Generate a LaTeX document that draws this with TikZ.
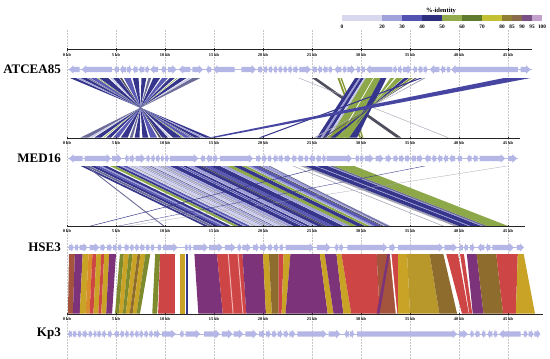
\documentclass[tikz,border=0pt]{standalone}
\usepackage{fontspec}
\setmainfont{Liberation Serif}
\definecolor{cNavy}{HTML}{35358C}
\definecolor{cNavyB}{HTML}{4646A2}
\definecolor{cBlue}{HTML}{5A5AB4}
\definecolor{cLav}{HTML}{9E9ED8}
\definecolor{cLightLav}{HTML}{CACAEA}
\definecolor{cSlate}{HTML}{6C6C98}
\definecolor{cGray}{HTML}{A4A4B4}
\definecolor{cDark}{HTML}{4E4E5E}
\definecolor{cGreen}{HTML}{8DA848}
\definecolor{cOliveG}{HTML}{8A9A3A}
\definecolor{cOlive}{HTML}{7E8A2E}
\definecolor{cGold}{HTML}{C9A326}
\definecolor{cGoldDark}{HTML}{B8982A}
\definecolor{cOrange}{HTML}{D88C2A}
\definecolor{cRed}{HTML}{CD4545}
\definecolor{cPurple}{HTML}{7D3379}
\definecolor{cBrown}{HTML}{8E6C2E}
\definecolor{cBrownRed}{HTML}{A4543C}
\definecolor{cPink}{HTML}{F2B4B4}
\definecolor{cGene}{HTML}{B4B7E6}
\definecolor{lg1}{HTML}{D8D8EE}
\definecolor{lg2}{HTML}{A2A2DA}
\definecolor{lg3}{HTML}{5252B2}
\definecolor{lg4}{HTML}{2E2E80}
\definecolor{lg5}{HTML}{93AB4B}
\definecolor{lg6}{HTML}{5F7B2D}
\definecolor{lg7}{HTML}{C4C034}
\definecolor{lg8}{HTML}{8F7E34}
\definecolor{lg9}{HTML}{8A6A4A}
\definecolor{lg10}{HTML}{7A4E86}
\definecolor{lg11}{HTML}{C4A0CC}
\tikzset{
  trk/.style={font=\bfseries\fontsize{13}{15}\selectfont, anchor=east, inner sep=0pt},
  tlab/.style={font=\bfseries\fontsize{4.3}{5}\selectfont, inner sep=0pt},
  llab/.style={font=\bfseries\fontsize{5.3}{6}\selectfont, inner sep=0pt},
  axisline/.style={line width=0.6pt, black!85},
  gridline/.style={black!22, line width=0.4pt, dash pattern=on 1.5pt off 1.5pt},
}
% gene arrows: #1 = y, #2 = list start/end/dir
\newcommand\genetrack[2]{%
  \foreach \gS/\gE/\gD in {#2}{%
    \pgfmathsetmacro\gH{min(0.45,(\gE-\gS)/2)}%
    \pgfmathsetmacro\gT{(\gS+\gE)/2+(\gD)*(\gE-\gS)/2}%
    \pgfmathsetmacro\gB{(\gS+\gE)/2-(\gD)*(\gE-\gS)/2}%
    \pgfmathsetmacro\gN{\gT-(\gD)*\gH}%
    \fill[cGene] (\gB,#1-2.7) -- (\gN,#1-2.7) -- (\gN,#1-4.3) -- (\gT,#1) -- (\gN,#1+4.3) -- (\gN,#1+2.7) -- (\gB,#1+2.7) -- cycle;
  }%
}
% axis with ticks: #1 = y, #2 = length in kb, #3 = name prefix
\newcommand\kbaxis[3]{%
  \draw[axisline] (0,#1) -- (#2,#1);
  \foreach \k in {0,5,...,45}{%
    \draw[black!85, line width=0.4pt] (\k,#1-1.2) -- (\k,#1+1.2);
    \node[tlab] (#3\k) at (\k,#1+5.4) {\k\ kb};
  }%
}
\begin{document}
\begin{tikzpicture}[x=1pt,y=-1pt]
\useasboundingbox (0,0) rectangle (550,359);
\fill[white] (0,0) rectangle (550,359);

% legend
\foreach \p/\q/\lc in {0/20/lg1,20/30/lg2,30/40/lg3,40/50/lg4,50/60/lg5,60/70/lg6,70/80/lg7,80/85/lg8,85/90/lg9,90/95/lg10,95/100/lg11}
  \fill[\lc] ({342+2*\p},15) rectangle ({342+2*\q},21);
\foreach \p in {0,20,30,40,50,60,70,80,85,90,95,100}
  \node[llab] (leg\p) at ({342+2*\p},27) {\p};
\node[font=\bfseries\fontsize{6.5}{7}\selectfont, inner sep=0pt] (legtitle) at (441,10.5) {\%-identity};

% track labels
\node[trk] (nATCEA) at (61,69.5) {ATCEA85};
\node[trk] (nMED) at (61,158.5) {MED16};
\node[trk] (nHSE) at (61,247.5) {HSE3};
\node[trk] (nKp) at (61,334) {Kp3};

\begin{scope}[xshift=67pt, x=9.8pt]
  % grid
  \foreach \k in {0,5,...,45} \draw[gridline] (\k,30) -- (\k,359);

  % ===== ATCEA85 -> MED16 =====
  \foreach \ra/\rb/\rcol in {0.3/0.9/cNavy,1.0/1.3/cLav,1.4/2.0/cNavy,2.1/2.3/cSlate,2.4/3.0/cBlue,3.1/3.2/cGreen,3.3/4.2/cNavy,4.4/4.6/cLightLav,4.7/5.3/cNavy,5.4/5.6/cDark,5.8/6.5/cBlue,6.7/7.3/cNavy,7.6/8.1/cNavy,8.3/8.6/cSlate,8.8/9.5/cNavy,9.7/10.3/cBlue,10.5/11.0/cNavy,11.2/11.3/cGreen,11.5/12.2/cNavy,12.4/12.7/cLightLav,12.8/13.6/cSlate}
    \fill[\rcol] (\ra,78) -- (\rb,78) -- ({15.0-\rb},137.5) -- ({15.0-\ra},137.5) -- cycle;
  \foreach \ra/\rb/\rc/\rd/\rcol in {25.0/25.45/33.6/34.1/cDark,23.6/23.72/38.8/38.92/cGray,27.6/27.8/29.8/30.0/cOliveG,27.9/28.05/30.1/30.25/cOliveG,29.4/29.8/25.5/25.9/cNavy,29.8/30.0/25.9/26.15/cLav,30.0/30.3/26.15/26.5/cNavy,30.3/30.5/26.5/26.8/cLightLav,30.5/32.0/26.8/28.8/cGreen,31.25/31.32/27.75/27.85/white,32.0/32.6/28.8/29.6/cNavy,33.0/33.4/28.8/28.4/cGreen,33.6/34.3/28.2/27.5/cGreen,34.4/34.9/27.4/26.9/cNavy,35.0/35.3/26.8/26.5/cOliveG,35.5/35.7/26.3/26.1/cDark,36.4/36.6/25.4/25.2/cGray,36.0/36.3/19.6/19.9/cNavy,44.6/47.3/14.5/15.2/cNavyB}
    \fill[\rcol] (\ra,78) -- (\rb,78) -- (\rd,137.5) -- (\rc,137.5) -- cycle;

  % ===== MED16 -> HSE3 =====
  \foreach \ra/\rb/\rcol in {1.4/1.8/cNavy,1.9/2.3/cSlate,2.4/2.9/cNavy,2.9/3.3/cBlue,3.3/3.6/cLav,3.6/4.1/cNavy,4.4/4.9/cGreen,4.95/5.4/cNavy,5.4/5.7/cLav,5.7/6.1/cBlue,6.2/6.4/cLightLav,6.5/6.7/cGray,6.8/7.2/cLightLav,7.3/7.5/cLav,7.6/7.9/cGray,8.0/8.3/cLav,8.4/8.6/cSlate,8.7/9.1/cLightLav,9.2/9.4/cLav,9.5/9.8/cGray,9.9/10.4/cLav,10.5/11.3/cNavy,11.4/11.7/cBlue,11.8/12.2/cNavy,12.3/12.9/cLav,12.95/13.6/cNavy,13.6/13.9/cDark,13.9/14.6/cBlue,14.6/15.6/cNavy,15.7/16.3/cLav,16.3/17.0/cGreen,17.0/17.8/cNavy,17.85/18.3/cGreen,18.4/18.8/cLav,18.8/19.5/cBlue,19.5/19.7/cDark,19.8/20.4/cLav}
    \fill[\rcol] (\ra,166) -- (\rb,166) -- ({\rb+12.6},226) -- ({\ra+12.6},226) -- cycle;
  \foreach \ra/\rb/\rcol in {23.8/24.3/cGray,24.3/25.3/cNavy,25.3/25.5/cLav,25.5/26.6/cNavy,26.6/26.8/cLav,26.8/27.2/cSlate,27.2/29.3/cGreen}
    \fill[\rcol] (\ra,166) -- (\rb,166) -- ({\rb+15.7},226) -- ({\ra+15.7},226) -- cycle;
  \foreach \ra/\rb/\rc/\rd/\rcol in {1.9/2.05/9.8/9.95/cSlate,20.5/20.7/32.6/32.8/cSlate,23.0/23.15/38.3/38.45/cGray,26.4/26.6/2.3/2.5/cNavy,36.4/36.6/5.2/5.35/cNavy,44.8/45.0/6.2/6.35/cGray}
    \fill[\rcol] (\ra,166) -- (\rb,166) -- (\rd,226) -- (\rc,226) -- cycle;

  % ===== HSE3 -> Kp3 =====
  \foreach \ra/\rb/\rc/\rd/\rcol in {0.2/0.8/0.1/0.6/cBrownRed,0.8/1.6/0.6/1.3/cPurple,1.6/2.2/1.3/1.9/cGold,2.2/2.6/1.9/2.3/cOrange,2.6/3.0/2.3/2.7/cRed,3.0/3.5/2.7/3.2/cGold,3.5/3.8/3.2/3.5/cRed,3.8/4.3/3.5/4.0/cGold,4.3/5.0/4.0/4.6/cPurple,5.4/5.8/4.9/5.3/cOlive,5.8/6.3/5.3/5.7/cGold,6.3/6.7/5.7/6.0/cOlive,6.7/7.2/6.0/6.4/cGold,7.2/7.5/6.4/6.7/cBrown,7.5/8.0/6.7/7.1/cGold,8.0/8.5/7.1/7.45/cOlive,9.0/9.5/8.7/9.2/cOlive,9.5/11.0/9.3/11.0/cRed,11.5/12.0/11.5/12.0/cGold,12.1/12.3/12.1/12.3/cNavy,13.0/15.3/13.4/15.9/cPurple,15.3/17.9/15.9/18.3/cRed,17.9/20.0/18.3/20.3/cPurple,20.0/20.6/20.3/20.9/cGold,20.6/21.6/20.9/21.6/cBrown,21.6/22.1/21.6/21.9/cRed,22.1/22.8/21.9/22.3/cGold,22.8/25.8/22.3/26.6/cPurple,25.8/26.3/26.6/27.2/cGold,26.3/27.5/27.2/28.2/cPurple,27.5/28.0/28.2/29.0/cGold,28.0/31.6/29.0/31.9/cRed,31.6/33.0/31.9/33.6/cBrownRed,33.0/33.8/33.6/33.8/cRed,33.8/34.7/33.8/35.0/cGold,34.7/37.0/35.0/38.0/cGoldDark,37.0/38.4/38.0/39.8/cBrown,38.7/39.9/40.3/41.0/cRed,40.1/40.5/41.05/41.35/cRed,40.8/41.8/41.4/42.5/cPurple,41.8/43.8/42.5/44.5/cBrown,43.8/46.0/44.5/45.8/cRed,46.0/46.6/45.8/47.75/cGold,32.95/33.1/33.55/33.7/white,32.7/32.95/31.6/31.9/cPurple,16.4/16.5/16.9/17.0/cPink,17.4/17.5/17.9/18.0/cPink}
    \fill[\rcol] (\ra,254) -- (\rb,254) -- (\rd,313.5) -- (\rc,313.5) -- cycle;

  % ===== axes =====
  \kbaxis{49.5}{47.4}{ta}
  \kbaxis{138}{46.2}{tb}
  \kbaxis{226}{46.7}{tc}
  \kbaxis{314}{48.6}{td}

  % ===== genes =====
  \draw[cGene, line width=0.8pt] (0.1,69.5) -- (47.4,69.5);
  \genetrack{69.5}{0.2/1.3/-1,1.5/4.6/-1,4.8/5.3/-1,5.4/6.0/-1,6.1/6.6/1,6.7/7.2/-1,7.3/7.9/-1,8.0/8.4/1,8.5/9.3/-1,9.6/10.1/-1,10.3/11.2/1,11.4/12.6/-1,12.8/13.9/1,14.2/14.7/-1,14.9/17.1/-1,17.8/19.3/1,19.5/20.0/1,20.1/20.5/1,20.6/21.0/1,21.1/21.5/1,21.6/22.0/1,22.1/22.5/1,22.6/23.0/1,23.1/23.6/1,23.7/24.9/1,25.0/25.5/-1,25.6/26.0/-1,26.1/26.6/-1,26.7/27.1/1,27.3/28.0/-1,28.1/28.5/-1,28.6/29.4/1,29.5/29.9/-1,30.0/30.4/-1,30.5/33.2/-1,33.3/33.7/1,33.8/34.2/1,34.3/35.2/1,35.3/35.7/-1,35.8/36.3/-1,36.4/36.8/1,37.0/38.0/-1,38.1/38.6/-1,38.7/39.1/-1,39.2/46.0/-1,46.3/47.3/1}
  \draw[cGene, line width=0.8pt] (0.1,158.5) -- (46.0,158.5);
  \genetrack{158.5}{0.2/1.6/-1,1.8/4.5/1,4.6/5.6/1,5.9/6.3/-1,6.4/6.9/1,7.0/8.0/1,8.1/8.5/1,8.6/9.0/1,9.1/9.5/1,9.6/9.9/1,10.0/10.4/1,10.5/13.4/1,13.6/14.1/-1,14.2/14.8/-1,14.9/15.4/1,15.6/19.0/1,19.3/19.8/1,19.9/20.4/1,20.5/20.9/1,21.0/21.5/-1,21.6/22.1/1,22.2/22.8/1,22.9/23.4/-1,23.5/24.1/-1,24.2/24.6/-1,24.7/25.3/-1,25.4/25.9/-1,26.0/26.4/-1,26.5/29.1/1,29.4/29.8/-1,29.9/30.3/1,30.4/31.3/1,31.5/32.3/1,32.5/33.1/1,33.3/33.8/1,33.9/34.4/1,34.5/35.0/1,35.1/35.6/-1,35.7/36.3/1,36.5/37.1/-1,37.2/37.7/-1,37.8/38.3/-1,38.4/38.9/-1,39.0/39.6/-1,39.8/40.3/-1,40.8/41.3/-1,41.4/41.9/-1,42.1/44.7/1,45.0/45.9/1}
  \draw[cGene, line width=0.8pt] (0.1,247.5) -- (46.6,247.5);
  \genetrack{247.5}{0.2/0.7/1,0.8/1.2/1,1.3/2.1/1,2.3/3.3/1,3.4/3.9/1,4.1/4.6/1,4.7/5.1/1,5.2/5.6/1,5.8/6.3/-1,6.4/6.8/-1,6.9/7.3/-1,7.4/7.9/-1,8.0/8.4/-1,8.5/8.9/-1,9.2/9.6/-1,9.8/11.3/1,12.0/12.3/-1,12.4/12.7/1,12.9/14.4/1,14.5/15.9/1,16.1/17.2/1,17.4/17.8/1,17.9/18.8/1,19.0/19.6/1,19.7/20.4/1,20.5/21.0/1,21.1/21.6/1,21.7/22.1/1,22.3/25.2/1,25.5/26.9/1,27.3/27.7/-1,27.8/28.2/1,28.6/32.7/1,32.9/33.5/1,33.8/38.4/1,38.5/39.8/1,40.0/40.4/-1,40.5/40.9/-1,41.1/41.6/1,41.9/42.6/-1,42.7/43.2/-1,43.4/45.6/1,45.9/46.6/1}
  \draw[cGene, line width=0.8pt] (0.1,334) -- (48.3,334);
  \genetrack{334}{0.1/0.5/-1,0.6/1.0/1,1.1/1.5/1,1.6/2.1/1,2.2/2.6/1,2.7/3.0/-1,3.1/3.5/1,3.6/4.0/1,4.2/4.6/1,4.8/5.3/-1,5.4/5.8/-1,5.9/6.3/-1,6.4/6.8/-1,6.9/7.3/-1,7.4/7.8/1,7.9/8.3/1,8.4/8.8/1,8.9/9.5/1,9.7/11.1/1,11.5/11.9/-1,12.1/13.6/1,14.0/15.6/1,15.8/16.9/1,17.0/18.0/1,18.2/19.4/1,19.6/20.2/1,20.3/20.8/1,20.9/21.4/1,21.5/22.0/1,22.1/22.6/1,22.7/23.3/1,23.5/26.5/1,26.7/27.9/1,28.3/28.8/-1,28.9/29.3/1,29.6/39.8/1,40.0/40.9/1,41.1/41.5/-1,41.6/42.1/-1,42.3/42.7/-1,42.9/43.4/-1,43.5/43.9/-1,44.1/46.3/-1,46.6/47.0/1,47.1/47.6/1,47.7/48.3/1}
\end{scope}
\end{tikzpicture}
\end{document}
